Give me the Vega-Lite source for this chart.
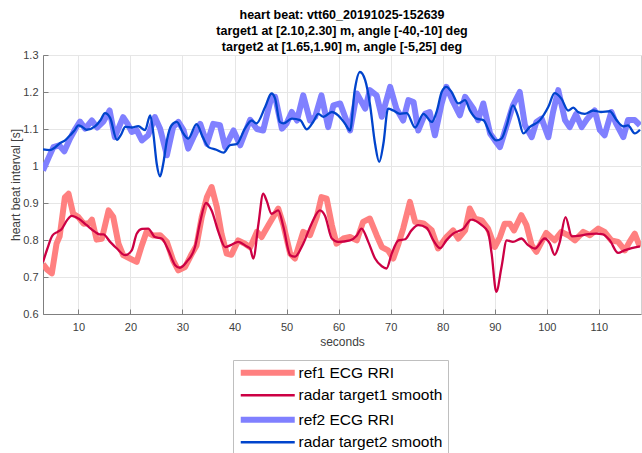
{
  "$schema": "https://vega.github.io/schema/vega-lite/v6.json",
  "autosize": "none",
  "width": 598,
  "height": 259,
  "padding": {"left": 43, "top": 55, "right": 1, "bottom": 139},
  "background": "white",
  "view": {"stroke": "#d0d0d0"},
  "title": {
    "text": ["heart beat: vtt60_20191025-152639", "target1 at [2.10,2.30] m, angle [-40,-10] deg", "target2 at [1.65,1.90] m, angle [-5,25] deg"],
    "font": "Liberation Sans", "fontSize": 12.5, "fontWeight": "bold", "color": "#000000",
    "lineHeight": 16, "offset": -4, "anchor": "middle", "frame": "group"
  },
  "config": {
    "axis": {
      "labelFont": "Liberation Sans", "labelFontSize": 11, "labelColor": "#404040",
      "titleFont": "Liberation Sans", "titleFontSize": 12, "titleFontWeight": "normal", "titleColor": "#404040",
      "domainColor": "#7f7f7f", "tickColor": "#7f7f7f", "gridColor": "#e6e6e6", "tickSize": -5
    },
    "legend": {"labelFont": "Liberation Sans", "labelFontSize": 15.5, "labelColor": "#000000"}
  },
  "datasets": {
    "ref1": [
      {"t":3.2,"v":0.735},{"t":4.0,"v":0.72},{"t":4.9,"v":0.71},{"t":5.8,"v":0.79},{"t":6.4,"v":0.81},{"t":7.4,"v":0.915},{"t":8.1,"v":0.925},{"t":9.0,"v":0.871},{"t":10.0,"v":0.862},{"t":11.0,"v":0.844},{"t":12.0,"v":0.845},{"t":12.6,"v":0.855},{"t":13.5,"v":0.801},{"t":14.5,"v":0.803},{"t":15.8,"v":0.880},{"t":16.7,"v":0.862},{"t":17.7,"v":0.790},{"t":18.6,"v":0.759},{"t":19.9,"v":0.750},{"t":21.2,"v":0.741},{"t":22.2,"v":0.786},{"t":23.1,"v":0.822},{"t":24.4,"v":0.812},{"t":25.7,"v":0.813},{"t":27.0,"v":0.795},{"t":28.2,"v":0.745},{"t":29.2,"v":0.718},{"t":30.5,"v":0.727},{"t":31.8,"v":0.763},{"t":32.7,"v":0.785},{"t":33.7,"v":0.862},{"t":34.7,"v":0.916},{"t":35.6,"v":0.943},{"t":36.6,"v":0.889},{"t":37.5,"v":0.817},{"t":38.5,"v":0.763},{"t":39.4,"v":0.760},{"t":40.7,"v":0.799},{"t":42.0,"v":0.790},{"t":43.0,"v":0.780},{"t":44.3,"v":0.822},{"t":45.2,"v":0.808},{"t":46.5,"v":0.840},{"t":48.4,"v":0.885},{"t":49.4,"v":0.840},{"t":50.7,"v":0.763},{"t":51.6,"v":0.750},{"t":53.2,"v":0.822},{"t":54.5,"v":0.813},{"t":55.8,"v":0.862},{"t":56.7,"v":0.916},{"t":57.7,"v":0.912},{"t":58.7,"v":0.840},{"t":59.6,"v":0.790},{"t":60.9,"v":0.804},{"t":62.2,"v":0.808},{"t":63.5,"v":0.799},{"t":64.7,"v":0.849},{"t":66.0,"v":0.858},{"t":67.3,"v":0.813},{"t":68.3,"v":0.781},{"t":69.5,"v":0.772},{"t":70.5,"v":0.750},{"t":71.5,"v":0.790},{"t":72.4,"v":0.831},{"t":73.7,"v":0.903},{"t":74.7,"v":0.849},{"t":76.3,"v":0.845},{"t":77.9,"v":0.826},{"t":79.1,"v":0.777},{"t":80.7,"v":0.808},{"t":82.0,"v":0.826},{"t":83.0,"v":0.804},{"t":84.3,"v":0.826},{"t":85.2,"v":0.885},{"t":86.2,"v":0.858},{"t":87.5,"v":0.853},{"t":88.7,"v":0.831},{"t":90.0,"v":0.781},{"t":91.0,"v":0.808},{"t":91.9,"v":0.844},{"t":92.9,"v":0.844},{"t":93.7,"v":0.826},{"t":95.1,"v":0.867},{"t":96.1,"v":0.840},{"t":97.1,"v":0.786},{"t":98.0,"v":0.768},{"t":99.0,"v":0.795},{"t":99.9,"v":0.819},{"t":101.5,"v":0.799},{"t":102.8,"v":0.822},{"t":104.1,"v":0.813},{"t":105.4,"v":0.799},{"t":107.0,"v":0.822},{"t":108.3,"v":0.813},{"t":109.9,"v":0.831},{"t":111.1,"v":0.822},{"t":112.4,"v":0.799},{"t":113.7,"v":0.795},{"t":115.0,"v":0.772},{"t":115.9,"v":0.795},{"t":116.9,"v":0.817},{"t":117.9,"v":0.781}
    ],
    "radar1": [
      {"t":3.2,"v":0.740},{"t":4.0,"v":0.775},{"t":5.0,"v":0.812},{"t":6.0,"v":0.822},{"t":6.8,"v":0.830},{"t":7.8,"v":0.853},{"t":8.7,"v":0.865},{"t":10.0,"v":0.858},{"t":11.6,"v":0.840},{"t":13.2,"v":0.822},{"t":14.1,"v":0.815},{"t":14.8,"v":0.815},{"t":16.1,"v":0.795},{"t":17.4,"v":0.777},{"t":19.0,"v":0.759},{"t":20.25,"v":0.772},{"t":21.2,"v":0.817},{"t":22.2,"v":0.830},{"t":23.4,"v":0.831},{"t":24.7,"v":0.808},{"t":26.0,"v":0.804},{"t":27.3,"v":0.772},{"t":28.6,"v":0.732},{"t":29.5,"v":0.725},{"t":30.8,"v":0.741},{"t":32.4,"v":0.781},{"t":33.4,"v":0.849},{"t":34.5,"v":0.900},{"t":35.6,"v":0.880},{"t":36.9,"v":0.822},{"t":38.2,"v":0.781},{"t":39.4,"v":0.787},{"t":40.7,"v":0.795},{"t":42.3,"v":0.783},{"t":43.0,"v":0.777},{"t":43.6,"v":0.750},{"t":44.6,"v":0.844},{"t":45.5,"v":0.925},{"t":46.2,"v":0.905},{"t":47.1,"v":0.871},{"t":48.4,"v":0.880},{"t":49.4,"v":0.835},{"t":50.7,"v":0.759},{"t":51.6,"v":0.755},{"t":53.2,"v":0.790},{"t":54.8,"v":0.844},{"t":56.4,"v":0.880},{"t":57.4,"v":0.865},{"t":58.7,"v":0.804},{"t":59.9,"v":0.795},{"t":62.2,"v":0.799},{"t":63.5,"v":0.812},{"t":64.4,"v":0.831},{"t":65.7,"v":0.795},{"t":67.0,"v":0.750},{"t":68.3,"v":0.729},{"t":69.2,"v":0.723},{"t":70.2,"v":0.763},{"t":71.5,"v":0.799},{"t":72.8,"v":0.802},{"t":74.0,"v":0.826},{"t":75.3,"v":0.840},{"t":76.9,"v":0.833},{"t":78.2,"v":0.799},{"t":79.5,"v":0.778},{"t":80.7,"v":0.799},{"t":82.0,"v":0.817},{"t":84.0,"v":0.831},{"t":85.5,"v":0.855},{"t":87.5,"v":0.840},{"t":88.7,"v":0.822},{"t":89.4,"v":0.763},{"t":90.3,"v":0.660},{"t":91.3,"v":0.727},{"t":92.3,"v":0.799},{"t":93.5,"v":0.795},{"t":95.1,"v":0.804},{"t":96.4,"v":0.786},{"t":97.7,"v":0.777},{"t":99.6,"v":0.804},{"t":100.6,"v":0.790},{"t":101.5,"v":0.760},{"t":102.5,"v":0.795},{"t":103.6,"v":0.862},{"t":104.8,"v":0.810},{"t":106.4,"v":0.812},{"t":107.6,"v":0.815},{"t":109.5,"v":0.817},{"t":110.8,"v":0.815},{"t":112.1,"v":0.799},{"t":113.7,"v":0.765},{"t":114.9,"v":0.772},{"t":116.3,"v":0.778},{"t":117.9,"v":0.783}
    ],
    "ref2": [
      {"t":3.2,"v":0.988},{"t":4.2,"v":1.02},{"t":5.2,"v":1.051},{"t":6.3,"v":1.056},{"t":7.3,"v":1.04},{"t":8.4,"v":1.074},{"t":9.4,"v":1.10},{"t":10.3,"v":1.12},{"t":11.3,"v":1.101},{"t":12.6,"v":1.123},{"t":13.6,"v":1.104},{"t":14.8,"v":1.12},{"t":16.0,"v":1.150},{"t":17.0,"v":1.078},{"t":18.6,"v":1.132},{"t":19.4,"v":1.115},{"t":20.25,"v":1.092},{"t":21.2,"v":1.097},{"t":22.2,"v":1.069},{"t":23.4,"v":1.083},{"t":24.7,"v":1.132},{"t":25.7,"v":1.101},{"t":27.0,"v":1.029},{"t":28.2,"v":1.105},{"t":29.2,"v":1.119},{"t":30.2,"v":1.097},{"t":31.1,"v":1.047},{"t":32.1,"v":1.078},{"t":33.4,"v":1.114},{"t":34.7,"v":1.060},{"t":35.9,"v":1.114},{"t":37.2,"v":1.110},{"t":38.2,"v":1.051},{"t":39.8,"v":1.096},{"t":41.1,"v":1.056},{"t":43.0,"v":1.125},{"t":44.3,"v":1.100},{"t":45.5,"v":1.096},{"t":47.1,"v":1.187},{"t":47.8,"v":1.187},{"t":49.1,"v":1.101},{"t":50.0,"v":1.115},{"t":51.0,"v":1.146},{"t":52.0,"v":1.123},{"t":53.2,"v":1.191},{"t":54.5,"v":1.123},{"t":55.5,"v":1.133},{"t":56.7,"v":1.191},{"t":58.0,"v":1.105},{"t":59.0,"v":1.164},{"t":60.3,"v":1.169},{"t":61.5,"v":1.123},{"t":62.2,"v":1.096},{"t":63.5,"v":1.196},{"t":65.1,"v":1.155},{"t":66.0,"v":1.205},{"t":67.3,"v":1.191},{"t":68.3,"v":1.133},{"t":69.9,"v":1.214},{"t":71.1,"v":1.155},{"t":72.4,"v":1.123},{"t":73.4,"v":1.178},{"t":74.4,"v":1.173},{"t":75.3,"v":1.096},{"t":76.6,"v":1.141},{"t":77.5,"v":1.146},{"t":78.5,"v":1.083},{"t":79.8,"v":1.169},{"t":80.7,"v":1.214},{"t":82.0,"v":1.173},{"t":83.3,"v":1.137},{"t":84.3,"v":1.187},{"t":85.9,"v":1.155},{"t":86.8,"v":1.124},{"t":87.8,"v":1.169},{"t":89.1,"v":1.088},{"t":90.0,"v":1.070},{"t":91.0,"v":1.051},{"t":92.3,"v":1.110},{"t":93.5,"v":1.164},{"t":94.8,"v":1.200},{"t":95.8,"v":1.110},{"t":97.1,"v":1.078},{"t":98.0,"v":1.119},{"t":99.0,"v":1.128},{"t":100.3,"v":1.078},{"t":101.2,"v":1.146},{"t":102.2,"v":1.205},{"t":103.5,"v":1.124},{"t":104.4,"v":1.105},{"t":105.6,"v":1.140},{"t":106.7,"v":1.105},{"t":107.8,"v":1.128},{"t":109.2,"v":1.150},{"t":110.2,"v":1.097},{"t":111.1,"v":1.083},{"t":112.4,"v":1.146},{"t":113.3,"v":1.115},{"t":114.7,"v":1.078},{"t":115.6,"v":1.124},{"t":116.9,"v":1.124},{"t":117.9,"v":1.110}
    ],
    "radar2": [
      {"t":3.2,"v":1.045},{"t":4.5,"v":1.043},{"t":5.5,"v":1.05},{"t":6.5,"v":1.062},{"t":7.5,"v":1.07},{"t":8.4,"v":1.083},{"t":9.2,"v":1.095},{"t":10.0,"v":1.110},{"t":10.8,"v":1.105},{"t":11.6,"v":1.098},{"t":13.2,"v":1.107},{"t":14.3,"v":1.125},{"t":15.1,"v":1.143},{"t":16.1,"v":1.13},{"t":17.4,"v":1.071},{"t":18.2,"v":1.085},{"t":19.0,"v":1.106},{"t":20.3,"v":1.104},{"t":21.5,"v":1.108},{"t":22.8,"v":1.097},{"t":23.8,"v":1.137},{"t":24.4,"v":1.088},{"t":25.05,"v":1.006},{"t":25.7,"v":0.972},{"t":26.3,"v":1.006},{"t":27.0,"v":1.069},{"t":27.9,"v":1.110},{"t":28.9,"v":1.119},{"t":30.2,"v":1.087},{"t":31.1,"v":1.074},{"t":32.7,"v":1.113},{"t":33.9,"v":1.078},{"t":35.0,"v":1.051},{"t":36.5,"v":1.044},{"t":37.9,"v":1.036},{"t":39.1,"v":1.056},{"t":40.4,"v":1.059},{"t":42.0,"v":1.101},{"t":43.3,"v":1.123},{"t":44.2,"v":1.115},{"t":45.9,"v":1.160},{"t":47.1,"v":1.196},{"t":47.8,"v":1.182},{"t":48.7,"v":1.119},{"t":49.4,"v":1.115},{"t":51.0,"v":1.128},{"t":52.6,"v":1.124},{"t":53.9,"v":1.099},{"t":55.1,"v":1.119},{"t":56.1,"v":1.141},{"t":57.1,"v":1.133},{"t":58.7,"v":1.146},{"t":59.9,"v":1.137},{"t":61.2,"v":1.115},{"t":62.2,"v":1.096},{"t":63.1,"v":1.205},{"t":64.1,"v":1.254},{"t":65.1,"v":1.232},{"t":66.0,"v":1.169},{"t":67.0,"v":1.060},{"t":67.8,"v":1.011},{"t":68.6,"v":1.060},{"t":69.5,"v":1.155},{"t":70.5,"v":1.150},{"t":71.8,"v":1.141},{"t":73.1,"v":1.143},{"t":74.7,"v":1.104},{"t":76.3,"v":1.141},{"t":77.9,"v":1.119},{"t":78.9,"v":1.15},{"t":79.8,"v":1.200},{"t":80.7,"v":1.214},{"t":81.7,"v":1.200},{"t":83.0,"v":1.169},{"t":84.3,"v":1.178},{"t":85.2,"v":1.151},{"t":86.5,"v":1.128},{"t":87.8,"v":1.124},{"t":89.1,"v":1.088},{"t":90.3,"v":1.069},{"t":91.3,"v":1.074},{"t":92.3,"v":1.110},{"t":93.5,"v":1.164},{"t":94.5,"v":1.133},{"t":95.5,"v":1.088},{"t":96.7,"v":1.105},{"t":98.7,"v":1.124},{"t":100.3,"v":1.160},{"t":101.5,"v":1.197},{"t":102.8,"v":1.182},{"t":104.1,"v":1.150},{"t":105.1,"v":1.158},{"t":106.0,"v":1.146},{"t":107.3,"v":1.141},{"t":108.9,"v":1.150},{"t":110.4,"v":1.146},{"t":112.1,"v":1.148},{"t":113.4,"v":1.124},{"t":114.7,"v":1.107},{"t":115.6,"v":1.110},{"t":116.9,"v":1.088},{"t":117.9,"v":1.098}
    ]
  },
  "encoding": {
    "x": {"field": "t", "type": "quantitative", "scale": {"domain": [3.2, 118.1], "nice": false, "zero": false},
      "axis": {"title": "seconds", "values": [10,20,30,40,50,60,70,80,90,100,110], "labelPadding": 12, "titlePadding": 4, "grid": true}},
    "y": {"field": "v", "type": "quantitative", "scale": {"domain": [0.6, 1.3], "nice": false, "zero": false},
      "axis": {"title": "heart beat interval [s]", "values": [0.6,0.7,0.8,0.9,1.0,1.1,1.2,1.3], "format": ".1~f", "labelPadding": 10, "titleX": -28, "titleBaseline": "middle", "grid": true}}
  },
  "layer": [
    {"data": {"name": "ref1"}, "mark": {"type": "line", "strokeWidth": 6, "strokeJoin": "round", "clip": true},
     "encoding": {"color": {"datum": "ref1 ECG RRI", "type": "nominal",
       "scale": {"domain": ["ref1 ECG RRI", "radar target1 smooth", "ref2 ECG RRI", "radar target2 smooth"], "range": ["#ff8080", "#cc0044", "#8080ff", "#0044cc"]},
       "legend": {"title": null, "orient": "none", "legendX": 190, "legendY": 305, "strokeColor": "#bfbfbf", "fillColor": "#ffffff", "padding": 5,
         "symbolType": "M-1,0H9.8", "symbolSize": 100, "symbolStrokeWidth": 0, "labelOffset": 45, "rowPadding": 2.5,
         "encode": {"symbols": {"update": {"strokeWidth": {"signal": "indexof(['ref1 ECG RRI','ref2 ECG RRI'], datum.value) >= 0 ? 6 : 2.5"}}}}}}}},
    {"data": {"name": "ref2"}, "mark": {"type": "line", "strokeWidth": 6, "strokeJoin": "round", "clip": true},
     "encoding": {"color": {"datum": "ref2 ECG RRI", "type": "nominal"}}},
    {"data": {"name": "radar1"}, "mark": {"type": "line", "strokeWidth": 2.3, "interpolate": "monotone", "clip": true},
     "encoding": {"color": {"datum": "radar target1 smooth", "type": "nominal"}}},
    {"data": {"name": "radar2"}, "mark": {"type": "line", "strokeWidth": 2.3, "interpolate": "monotone", "clip": true},
     "encoding": {"color": {"datum": "radar target2 smooth", "type": "nominal"}}}
  ]
}
